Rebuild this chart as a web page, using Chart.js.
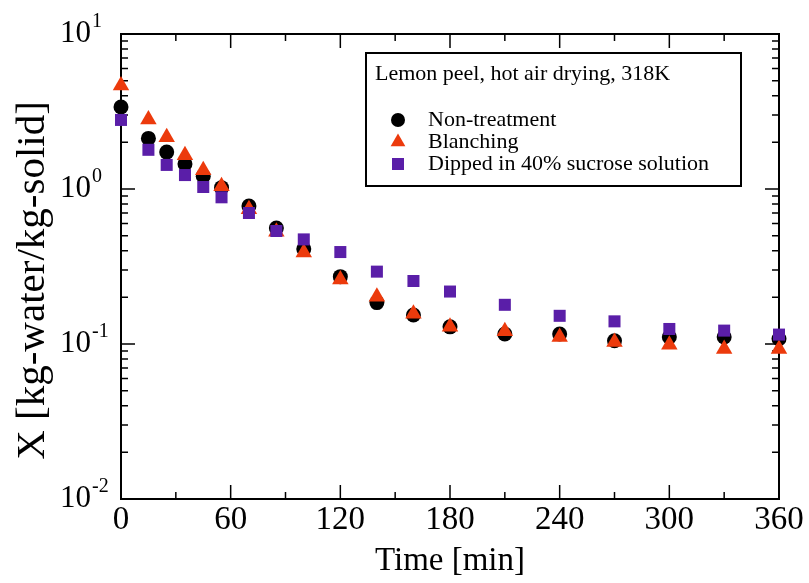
<!DOCTYPE html>
<html>
<head>
<meta charset="utf-8">
<script src="https://cdn.jsdelivr.net/npm/chart.js@4.4.0/dist/chart.umd.min.js"></script>
<style>
  html, body { margin: 0; padding: 0; background: #fff; }
  #wrap { width: 809px; height: 583px; }
</style>
</head>
<body>
<div id="wrap"><canvas id="dryingChart" width="809" height="583"></canvas></div>
<script>
// drying time [min]
const times = [0, 15, 25, 35, 45, 55, 70, 85, 100, 120, 140, 160, 180, 210, 240, 270, 300, 330, 360];
// moisture content X [kg-water/kg-solid]
const nonTreatment = [3.38, 2.12, 1.73, 1.45, 1.21, 1.02, 0.776, 0.56, 0.41, 0.272, 0.185, 0.154, 0.129, 0.116, 0.116, 0.105, 0.111, 0.111, 0.108];
const blanching = [4.65, 2.81, 2.16, 1.65, 1.32, 1.04, 0.74, 0.53, 0.39, 0.261, 0.202, 0.157, 0.129, 0.121, 0.111, 0.103, 0.099, 0.093, 0.093];
const sucrose = [2.79, 1.79, 1.43, 1.23, 1.03, 0.884, 0.70, 0.536, 0.473, 0.392, 0.293, 0.255, 0.218, 0.179, 0.152, 0.140, 0.125, 0.122, 0.115];

const seriesNames = ['Non-treatment', 'Blanching', 'Dipped in 40% sucrose solution'];
const legendTitle = 'Lemon peel, hot air drying, 318K';
const yTitle = 'X [kg-water/kg-solid]';
const xTickValues = [0, 60, 120, 180, 240, 300, 360];
const yDecades = [0.01, 0.1, 1, 10];
const yExponents = ['-2', '-1', '0', '1'];

const serif = '"Liberation Serif", "Times New Roman", serif';

function toPoints(vals) {
    return times.map((t, i) => ({ x: t, y: vals[i] }));
}

const frameAndTicks = {
    id: 'frameAndTicks',
    beforeDatasetsDraw(chart) {
        const { ctx, chartArea: a, scales: { x, y } } = chart;
        ctx.save();
        ctx.strokeStyle = '#000';
        ctx.lineWidth = 2;
        ctx.strokeRect(a.left, a.top, a.right - a.left, a.bottom - a.top);

        ctx.lineWidth = 1.5;
        ctx.beginPath();
        for (let t = 0; t <= 360; t += 30) {
            const px = x.getPixelForValue(t);
            const len = t % 60 === 0 ? 14 : 7;
            ctx.moveTo(px, a.bottom); ctx.lineTo(px, a.bottom - len);
            ctx.moveTo(px, a.top); ctx.lineTo(px, a.top + len);
        }
        yDecades.forEach((d, k) => {
            for (let m = 1; m <= 9; m++) {
                if (k === yDecades.length - 1 && m > 1) break;
                const py = y.getPixelForValue(d * m);
                const len = m === 1 ? 14 : 7;
                ctx.moveTo(a.left, py); ctx.lineTo(a.left + len, py);
                ctx.moveTo(a.right, py); ctx.lineTo(a.right - len, py);
            }
        });
        ctx.stroke();

        // y tick labels as 10 with a raised exponent
        ctx.fillStyle = '#000';
        ctx.textAlign = 'left';
        ctx.textBaseline = 'middle';
        yDecades.forEach((d, k) => {
            const py = y.getPixelForValue(d);
            ctx.font = '31px ' + serif;
            ctx.fillText('10', 60, py);
            const w = ctx.measureText('10').width;
            ctx.font = '20px ' + serif;
            ctx.fillText(yExponents[k], 60 + w + 1, py - 12);
        });

        // y axis title, sits a bit below the plot centre like the original
        ctx.save();
        ctx.translate(33, (a.top + a.bottom) / 2 + 14);
        ctx.rotate(-Math.PI / 2);
        ctx.textAlign = 'center';
        ctx.font = '41px ' + serif;
        ctx.fillText(yTitle, 0, 0);
        ctx.restore();
        ctx.restore();
    },
    afterDraw(chart) {
        const { ctx, chartArea: a } = chart;
        const bx = a.left + 245, by = a.top + 19, bw = 375, bh = 133;
        ctx.save();
        ctx.strokeStyle = '#000';
        ctx.lineWidth = 2;
        ctx.fillStyle = '#fff';
        ctx.fillRect(bx, by, bw, bh);
        ctx.strokeRect(bx, by, bw, bh);
        ctx.fillStyle = '#000';
        ctx.textAlign = 'left';
        ctx.textBaseline = 'middle';
        ctx.font = '22px ' + serif;
        ctx.fillText(legendTitle, bx + 9, by + 21);
        [0, 1, 2].forEach((i) => {
            const ds = chart.data.datasets[i];
            const ly = by + 67 + i * 22;
            ctx.fillStyle = ds.backgroundColor;
            ctx.strokeStyle = ds.borderColor;
            Chart.helpers.drawPoint(ctx, {
                pointStyle: ds.pointStyle,
                radius: ds.legendRadius,
                rotation: 0,
                borderWidth: 0
            }, bx + 32, ly);
            ctx.fillStyle = '#000';
            ctx.font = '22px ' + serif;
            ctx.fillText(seriesNames[i], bx + 62, ly);
        });
        ctx.restore();
    }
};

new Chart(document.getElementById('dryingChart'), {
    type: 'scatter',
    data: {
        datasets: [{
            label: seriesNames[0],
            data: toPoints(nonTreatment),
            pointStyle: 'circle',
            pointRadius: 7.5,
            legendRadius: 7,
            backgroundColor: '#000000',
            borderColor: '#000000',
            borderWidth: 0,
            order: 3,
            clip: false
        }, {
            label: seriesNames[1],
            data: toPoints(blanching),
            pointStyle: 'triangle',
            pointRadius: 9.5,
            legendRadius: 8.5,
            backgroundColor: '#ec3a0c',
            borderColor: '#ec3a0c',
            borderWidth: 0,
            order: 2,
            clip: false
        }, {
            label: seriesNames[2],
            data: toPoints(sucrose),
            pointStyle: 'rect',
            pointRadius: 8.5,
            legendRadius: 8.5,
            backgroundColor: '#5a1ea8',
            borderColor: '#5a1ea8',
            borderWidth: 0,
            order: 1,
            clip: false
        }]
    },
    options: {
        responsive: false,
        animation: false,
        layout: { padding: { top: 34, right: 30, bottom: 0, left: 0 } },
        plugins: {
            legend: { display: false },
            tooltip: { enabled: false }
        },
        scales: {
            x: {
                type: 'linear',
                min: 0,
                max: 360,
                afterBuildTicks: (axis) => { axis.ticks = xTickValues.map(v => ({ value: v })); },
                afterFit: (axis) => { axis.height = 84; },
                grid: { display: false, drawTicks: false },
                border: { display: false },
                ticks: {
                    autoSkip: false,
                    maxRotation: 0,
                    padding: 2,
                    color: '#000',
                    font: { family: serif, size: 33 }
                },
                title: {
                    display: true,
                    text: 'Time [min]',
                    color: '#000',
                    font: { family: serif, size: 33 },
                    padding: { top: 0, bottom: 2 }
                }
            },
            y: {
                type: 'logarithmic',
                min: 0.01,
                max: 10,
                afterFit: (axis) => { axis.width = 121; },
                grid: { display: false, drawTicks: false },
                border: { display: false },
                ticks: { display: false },
                title: { display: false }
            }
        }
    },
    plugins: [frameAndTicks]
});
</script>
</body>
</html>
